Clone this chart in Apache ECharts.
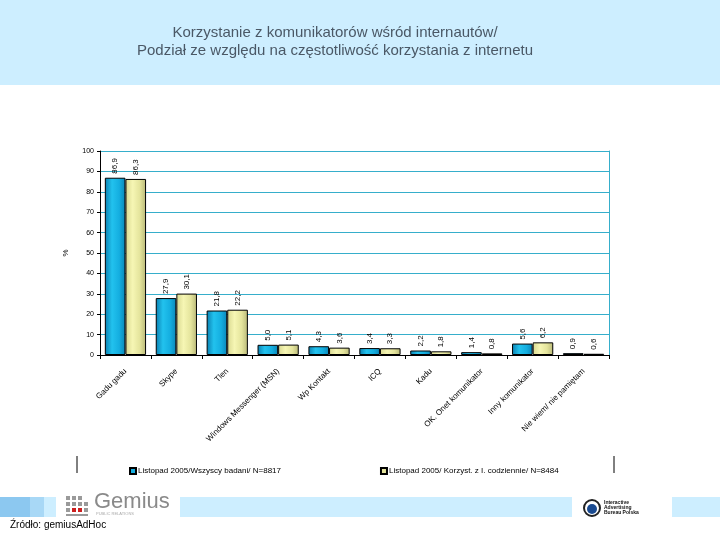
<!DOCTYPE html>
<html>
<head>
<meta charset="utf-8">
<script src="https://cdn.jsdelivr.net/npm/echarts@6/dist/echarts.min.js"></script>
<style>
  html, body { margin: 0; padding: 0; background: #fff; }
</style>
</head>
<body>
<div id="chart" style="width:720px;height:540px;"></div>
<script>
// dane z wykresu
var categories = ['Gadu gadu', 'Skype', 'Tlen', 'Windows Messenger (MSN)', 'Wp Kontakt',
  'ICQ', 'Kadu', 'OK. Onet komunikator', 'Inny komunikator', 'Nie wiem/ nie pamiętam'];
var allUsers = [86.9, 27.9, 21.8, 5.0, 4.3, 3.4, 2.2, 1.4, 5.6, 0.9];
var dailyUsers = [86.3, 30.1, 22.2, 5.1, 3.6, 3.3, 1.8, 0.8, 6.2, 0.6];
var seriesNames = ['Listopad 2005/Wszyscy badani/ N=8817', 'Listopad 2005/ Korzyst. z I. codziennie/ N=8484'];
var yTicks = { min: 0, max: 100, interval: 10 };

var myChart = echarts.init(document.getElementById('chart'));

function fmt(p) {
  return p.value.toFixed(1).replace('.', ',');
}

var blueFill = new echarts.graphic.LinearGradient(0, 0, 1, 0, [
  { offset: 0, color: '#0a7fb0' },
  { offset: 0.35, color: '#22c2ee' },
  { offset: 0.7, color: '#14aee0' },
  { offset: 1, color: '#0a86b8' }
]);
var yellowFill = new echarts.graphic.LinearGradient(0, 0, 1, 0, [
  { offset: 0, color: '#d8d890' },
  { offset: 0.35, color: '#f6f6b4' },
  { offset: 0.7, color: '#e4e49c' },
  { offset: 1, color: '#b8b878' }
]);

var barLabel = {
  show: true,
  position: 'top',
  rotate: 90,
  align: 'left',
  verticalAlign: 'middle',
  distance: 4,
  fontSize: 8,
  fontFamily: 'Liberation Sans',
  color: '#000',
  formatter: fmt
};

var option = {
  animation: false,
  backgroundColor: '#fff',
  title: {
    text: 'Korzystanie z komunikatorów wśród internautów/\nPodział ze względu na częstotliwość korzystania z internetu',
    left: 330,
    top: 19,
    textAlign: 'center',
    textStyle: {
      fontFamily: 'Liberation Sans',
      fontSize: 15,
      fontWeight: 'normal',
      color: '#4a5866',
      lineHeight: 18
    }
  },
  legend: {
    top: 462,
    left: 124,
    itemGap: 99,
    itemWidth: 6,
    itemHeight: 6,
    icon: 'rect',
    textStyle: { fontSize: 8, fontFamily: 'Liberation Sans', color: '#000', padding: [0, 0, 0, -3] },
    data: [
      { name: seriesNames[0], itemStyle: { color: '#14aee0' } },
      { name: seriesNames[1], itemStyle: { color: '#e4e49c' } }
    ]
  },
  grid: { left: 100, right: 111, top: 151, bottom: 185 },
  xAxis: {
    type: 'category',
    data: categories,
    axisLine: { lineStyle: { color: '#000', width: 1 } },
    axisTick: { show: true, interval: 0, length: 4, lineStyle: { color: '#000' } },
    axisLabel: {
      interval: 0,
      rotate: 45,
      fontSize: 8,
      fontFamily: 'Liberation Sans',
      color: '#000',
      margin: 15
    }
  },
  yAxis: [
    {
      type: 'value',
      min: yTicks.min,
      max: yTicks.max,
      interval: yTicks.interval,
      name: '%',
      nameLocation: 'middle',
      nameGap: 30,
      nameRotate: 90,
      nameTextStyle: { fontSize: 8, color: '#000', fontFamily: 'Liberation Sans' },
      axisLine: { show: true, lineStyle: { color: '#000' } },
      axisTick: { show: true, length: 3, lineStyle: { color: '#000' } },
      axisLabel: { fontSize: 7, fontFamily: 'Liberation Sans', color: '#000', margin: 6 },
      splitLine: { lineStyle: { color: '#36aecb', width: 1 } }
    },
    {
      type: 'value',
      position: 'right',
      min: yTicks.min,
      max: yTicks.max,
      interval: yTicks.interval,
      axisLine: { show: true, lineStyle: { color: '#36aecb' } },
      axisTick: { show: false },
      axisLabel: { show: false },
      splitLine: { show: false }
    }
  ],
  series: [
    {
      name: seriesNames[0],
      type: 'bar',
      data: allUsers,
      barGap: '0%',
      barCategoryGap: '19%',
      itemStyle: { color: blueFill, borderColor: '#000', borderWidth: 1 },
      label: barLabel
    },
    {
      name: seriesNames[1],
      type: 'bar',
      data: dailyUsers,
      itemStyle: { color: yellowFill, borderColor: '#000', borderWidth: 1 },
      label: barLabel
    }
  ],
  graphic: [
    // pasek naglowka
    { type: 'rect', z: -10, shape: { x: 0, y: 0, width: 720, height: 85 }, style: { fill: '#cdeeff' } },
    // ramka legendy
    { type: 'line', shape: { x1: 77, y1: 456, x2: 77, y2: 473 }, style: { stroke: '#000', lineWidth: 1 } },
    { type: 'line', shape: { x1: 614, y1: 456, x2: 614, y2: 473 }, style: { stroke: '#000', lineWidth: 1 } },
    // stopka
    { type: 'rect', shape: { x: 0, y: 497, width: 30, height: 20 }, style: { fill: '#8cc8f0' } },
    { type: 'rect', shape: { x: 30, y: 497, width: 14, height: 20 }, style: { fill: '#a8d8f6' } },
    { type: 'rect', shape: { x: 44, y: 497, width: 12, height: 20 }, style: { fill: '#cdeeff' } },
    { type: 'rect', shape: { x: 180, y: 497, width: 392, height: 20 }, style: { fill: '#cdeeff' } },
    { type: 'rect', shape: { x: 672, y: 497, width: 48, height: 20 }, style: { fill: '#cdeeff' } },
    // logo Gemius
    { type: 'rect', shape: { x: 66, y: 496, width: 4, height: 4 }, style: { fill: '#9a9a9a' } },
    { type: 'rect', shape: { x: 72, y: 496, width: 4, height: 4 }, style: { fill: '#9a9a9a' } },
    { type: 'rect', shape: { x: 78, y: 496, width: 4, height: 4 }, style: { fill: '#9a9a9a' } },
    { type: 'rect', shape: { x: 66, y: 502, width: 4, height: 4 }, style: { fill: '#9a9a9a' } },
    { type: 'rect', shape: { x: 72, y: 502, width: 4, height: 4 }, style: { fill: '#9a9a9a' } },
    { type: 'rect', shape: { x: 78, y: 502, width: 4, height: 4 }, style: { fill: '#9a9a9a' } },
    { type: 'rect', shape: { x: 84, y: 502, width: 4, height: 4 }, style: { fill: '#9a9a9a' } },
    { type: 'rect', shape: { x: 66, y: 508, width: 4, height: 4 }, style: { fill: '#9a9a9a' } },
    { type: 'rect', shape: { x: 72, y: 508, width: 4, height: 4 }, style: { fill: '#cc1f1f' } },
    { type: 'rect', shape: { x: 78, y: 508, width: 4, height: 4 }, style: { fill: '#cc1f1f' } },
    { type: 'rect', shape: { x: 84, y: 508, width: 4, height: 4 }, style: { fill: '#9a9a9a' } },
    { type: 'rect', shape: { x: 66, y: 514, width: 22, height: 2 }, style: { fill: '#9a9a9a' } },
    { type: 'text', left: 94, top: 491, style: { text: 'Gemius', fontSize: 22, fontFamily: 'Liberation Sans', fill: '#8a8a8a' } },
    { type: 'text', left: 96, top: 512, style: { text: 'PUBLIC RELATIONS', fontSize: 4, fontFamily: 'Liberation Sans', fill: '#aaaaaa' } },
    // logo IAB
    { type: 'circle', shape: { cx: 592, cy: 508, r: 8 }, style: { fill: '#fff', stroke: '#222', lineWidth: 2 } },
    { type: 'circle', shape: { cx: 592, cy: 509, r: 5 }, style: { fill: '#1a4a90' } },
    { type: 'text', left: 604, top: 500, style: { text: 'Interactive\nAdvertising\nBureau Polska', fontSize: 5, lineHeight: 5, fontFamily: 'Liberation Sans', fill: '#111', fontWeight: 'bold' } },
    // zrodlo
    { type: 'text', left: 10, top: 520, style: { text: 'Źródło: gemiusAdHoc', fontSize: 10, fontFamily: 'Liberation Sans', fill: '#000' } }
  ]
};

myChart.setOption(option);
</script>
</body>
</html>
